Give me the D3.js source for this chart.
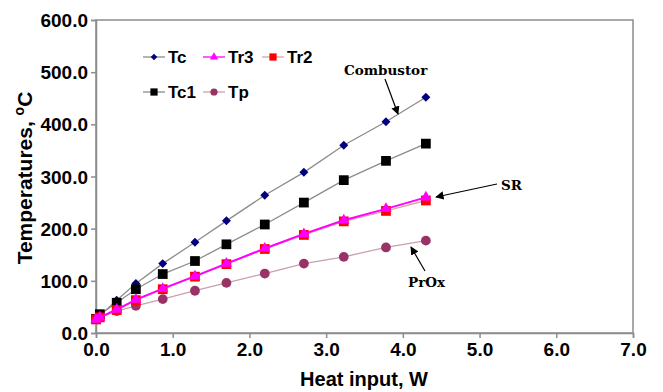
<!DOCTYPE html>
<html>
<head>
<meta charset="utf-8">
<script src="https://cdn.jsdelivr.net/npm/d3@7"></script>
<style>
  html, body { margin: 0; padding: 0; background: #fff; }
  svg text { font-family: Arial, "Liberation Sans", sans-serif; }
  .tick text { font-weight: bold; font-size: 19px; fill: #000; }
  .note { font-family: "DejaVu Serif", "Liberation Serif", serif; font-weight: bold; font-size: 13.5px; }
</style>
</head>
<body>
<svg id="chart" width="663" height="392"></svg>
<script>
const heatInput = [0, 0.05, 0.27, 0.52, 0.87, 1.29, 1.70, 2.20, 2.71, 3.23, 3.78, 4.30];
const tc  = [27, 33, 63, 95, 133, 174, 215, 264, 308, 360, 405, 452];
const tc1 = [27, 36, 58, 84, 113, 138, 170, 208, 250, 293, 330, 363];
const tr3 = [26, 30, 45, 64, 85, 109, 133, 162, 190, 216, 238, 260];
const tr2 = [26, 30, 44, 63, 84, 108, 132, 161, 188, 214, 234, 254];
const tp  = [27, 30, 42, 52, 65, 81, 96, 114, 133, 146, 164, 177];
const xTicks = [0, 1, 2, 3, 4, 5, 6, 7];
const yTicks = [0, 100, 200, 300, 400, 500, 600];

const series = [
  { name: 'Tc', values: tc, line: '#8c8c8c', fill: '#000080', shape: d3.symbolSquare, size: 40, rot: 45 },
  { name: 'Tc1', values: tc1, line: '#8c8c8c', fill: '#000000', shape: d3.symbolSquare, size: 95, rot: 0 },
  { name: 'Tp', values: tp, line: '#c8a0b0', fill: '#993366', shape: d3.symbolCircle, size: 75, rot: 0 },
  { name: 'Tr2', values: tr2, line: '#e0a0a0', fill: '#ff0000', shape: d3.symbolSquare, size: 95, rot: 0 },
  { name: 'Tr3', values: tr3, line: '#ff00ff', fill: '#ff00ff', shape: d3.symbolTriangle, size: 55, rot: 0 },
];

const svg = d3.select('#chart');
const [x0, x1, y0, y1] = [96, 633, 333, 20];

const x = d3.scaleLinear().domain([0, 7]).range([x0, x1]);
const y = d3.scaleLinear().domain([0, 600]).range([y0, y1]);

// frame
svg.append('rect')
    .attr('x', x0).attr('y', y1)
    .attr('width', x1 - x0).attr('height', y0 - y1)
    .attr('fill', 'none')
    .attr('stroke', '#8c8c8c')
    .attr('stroke-width', 1.5);

const xAxis = svg.append('g')
    .attr('transform', `translate(0,${y0})`)
    .call(d3.axisBottom(x).tickValues(xTicks).tickFormat(d3.format('.1f')).tickSize(5).tickPadding(3));

const yAxis = svg.append('g')
    .attr('transform', `translate(${x0},0)`)
    .call(d3.axisLeft(y).tickValues(yTicks).tickFormat(d3.format('.1f')).tickSize(5).tickPadding(3));

[xAxis, yAxis].forEach(a => {
  a.select('.domain').attr('stroke', '#8c8c8c').attr('stroke-width', 1.5);
  a.selectAll('.tick line').attr('stroke', '#8c8c8c').attr('stroke-width', 1.5);
});
xAxis.selectAll('.tick text').attr('dy', '0.8em');
yAxis.selectAll('.tick text').attr('dy', '0.35em');

const line = d3.line()
    .x((d, i) => x(heatInput[i]))
    .y(d => y(d));

const g = svg.append('g');
series.forEach(s => {
  g.append('path')
      .attr('d', line(s.values))
      .attr('fill', 'none')
      .attr('stroke', s.line)
      .attr('stroke-width', s.name === 'Tr3' ? 2 : 1.3);
  g.selectAll(null)
    .data(s.values)
    .join('path')
      .attr('transform', (d, i) => `translate(${x(heatInput[i])},${y(d)}) rotate(${s.rot})`)
      .attr('d', d3.symbol(s.shape, s.size))
      .attr('fill', s.fill);
});

// legend
const legendItems = [
  { key: 'Tc', lx: 143, ly: 57 },
  { key: 'Tr3', lx: 203, ly: 57 },
  { key: 'Tr2', lx: 262, ly: 57 },
  { key: 'Tc1', lx: 143, ly: 92 },
  { key: 'Tp', lx: 203, ly: 92 },
];
const legend = svg.append('g');
legendItems.forEach(({key, lx, ly}) => {
  const s = series.find(d => d.name === key);
  legend.append('line')
      .attr('x1', lx).attr('x2', lx + 22)
      .attr('y1', ly).attr('y2', ly)
      .attr('stroke', s.line).attr('stroke-width', 1.3);
  legend.append('path')
      .attr('transform', `translate(${lx + 11},${ly}) rotate(${s.rot})`)
      .attr('d', d3.symbol(s.shape, s.size * 0.55))
      .attr('fill', s.fill);
  legend.append('text')
      .attr('x', lx + 25).attr('y', ly + 6)
      .attr('font-size', 17).attr('font-weight', 'bold')
      .text(key);
});

// annotations
const notes = [
  { text: 'Combustor', tx: 344, ty: 75, ax1: 385, ay1: 79, ax2: 398, ay2: 114 },
  { text: 'SR', tx: 501, ty: 190, ax1: 497, ay1: 184, ax2: 436, ay2: 197 },
  { text: 'PrOx', tx: 408, ty: 287, ax1: 425, ay1: 271, ax2: 411, ay2: 247 },
];
svg.append('defs').append('marker')
    .attr('id', 'arrow')
    .attr('viewBox', '0 0 10 10')
    .attr('refX', 9).attr('refY', 5)
    .attr('markerWidth', 7).attr('markerHeight', 7)
    .attr('orient', 'auto')
  .append('path')
    .attr('d', 'M0,0 L10,5 L0,10 z')
    .attr('fill', '#000');
notes.forEach(n => {
  svg.append('text').attr('class', 'note')
      .attr('x', n.tx).attr('y', n.ty)
      .text(n.text);
  svg.append('line')
      .attr('x1', n.ax1).attr('y1', n.ay1)
      .attr('x2', n.ax2).attr('y2', n.ay2)
      .attr('stroke', '#000').attr('stroke-width', 1.2)
      .attr('marker-end', 'url(#arrow)');
});

// axis titles
svg.append('text')
    .attr('x', 364).attr('y', 386)
    .attr('text-anchor', 'middle')
    .attr('font-size', 20).attr('font-weight', 'bold')
    .text('Heat input, W');

const yt = svg.append('text')
    .attr('transform', 'translate(32,178) rotate(-90)')
    .attr('text-anchor', 'middle')
    .attr('font-size', 21).attr('font-weight', 'bold');
yt.append('tspan').text('Temperatures, ');
yt.append('tspan').attr('font-size', 14).attr('dy', -8).text('o');
yt.append('tspan').attr('dy', 8).text('C');
</script>
</body>
</html>
